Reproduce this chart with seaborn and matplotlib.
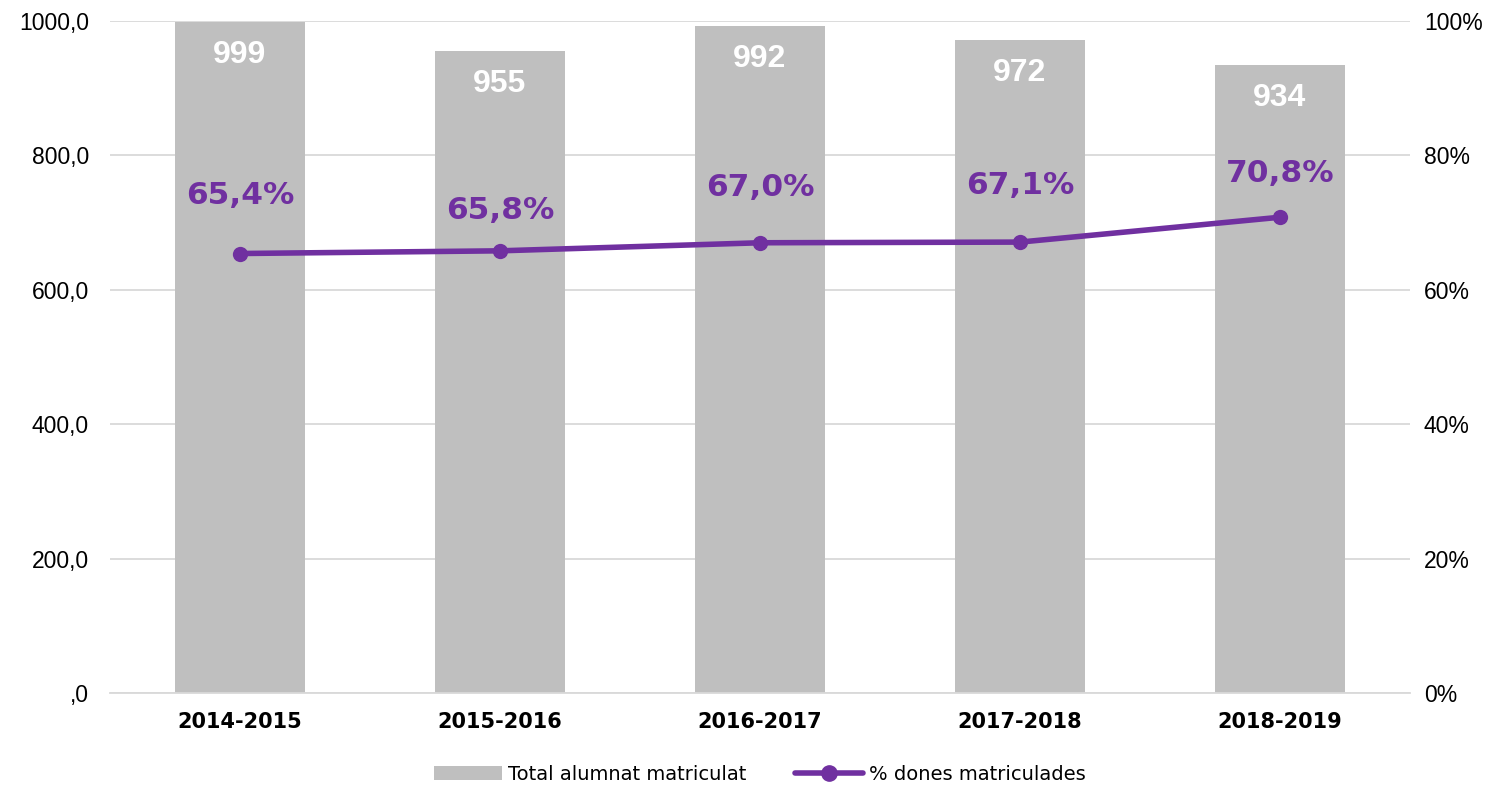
import numpy as np
import pandas as pd
import matplotlib
matplotlib.use('Agg')
import matplotlib.pyplot as plt
from matplotlib import font_manager
from matplotlib.ticker import FuncFormatter
from matplotlib.lines import Line2D
from matplotlib.patches import Patch
import seaborn as sns

# Data
courses = ['2014-2015', '2015-2016', '2016-2017', '2017-2018', '2018-2019']
total_students = [999, 955, 992, 972, 934]
pct_women = [65.4, 65.8, 67.0, 67.1, 70.8]

# label offsets above the line points (pixels)
pct_label_offsets = [58, 40, 55, 57, 44]

BAR_COLOR = '#BFBFBF'
LINE_COLOR = '#7030A0'

sns.set_theme(style='white')
plt.rcParams['font.family'] = ['Liberation Sans', 'DejaVu Sans']
plt.rcParams['text.color'] = 'black'
plt.rcParams['xtick.color'] = 'black'
plt.rcParams['ytick.color'] = 'black'


def arial_bold(size):
    """Liberation Sans Bold (not the Narrow variant)"""
    for f in font_manager.fontManager.ttflist:
        if (f.name == 'Liberation Sans' and f.weight in (700, 'bold')
                and f.style == 'normal' and 'Narrow' not in f.fname):
            return font_manager.FontProperties(fname=f.fname, size=size)
    return font_manager.FontProperties(family='Liberation Sans', weight='bold', size=size)


df = pd.DataFrame({'course': courses, 'total': total_students, 'pct': pct_women})

fig = plt.figure(figsize=(14.96, 7.9), dpi=100)
ax = fig.add_axes([0.0735, 0.1228, 0.869, 0.8506])

sns.barplot(data=df, x='course', y='total', color=BAR_COLOR, width=0.5,
            saturation=1, ax=ax, zorder=2, edgecolor='none', linewidth=0)
ax.set_ylim(0, 1000)
ax.set_yticks(np.arange(0, 1001, 200))
ax.yaxis.set_major_formatter(FuncFormatter(
    lambda v, p: ',0' if v == 0 else f'{v:.1f}'.replace('.', ',')))
ax.grid(axis='y', color='#D9D9D9', lw=1.3, zorder=0)
ax.set_axisbelow(True)
ax.set_xlabel('')
ax.set_ylabel('')
for s in ['top', 'right', 'left']:
    ax.spines[s].set_visible(False)
ax.spines['bottom'].set_color('#D9D9D9')
ax.spines['bottom'].set_linewidth(1.3)
ax.tick_params(axis='y', labelsize=16.5, length=0, pad=15, labelcolor='black')
ax.tick_params(axis='x', length=0, pad=14, labelcolor='black')
for lbl in ax.get_xticklabels():
    lbl.set_fontfamily('DejaVu Sans')
    lbl.set_fontweight('bold')
    lbl.set_fontsize(15)

for i, v in enumerate(total_students):
    ax.annotate(str(v), (i, v), xytext=(0, -33), textcoords='offset pixels',
                ha='center', va='center', color='white',
                fontproperties=arial_bold(23))

ax2 = ax.twinx()
sns.lineplot(data=df, x='course', y='pct', color=LINE_COLOR, lw=4,
             marker='o', markersize=11, markeredgewidth=0, ax=ax2, zorder=3)
ax2.set_ylim(0, 100)
ax2.set_yticks(np.arange(0, 101, 20))
ax2.yaxis.set_major_formatter(FuncFormatter(lambda v, p: f'{v:.0f}%'))
ax2.set_ylabel('')
ax2.tick_params(axis='y', labelsize=16.5, length=0, pad=10, labelcolor='black')
for s in ax2.spines.values():
    s.set_visible(False)
ax2.grid(False)

for i, (v, off) in enumerate(zip(pct_women, pct_label_offsets)):
    ax2.annotate(f'{v:.1f}%'.replace('.', ','), (i, v), xytext=(0, off),
                 textcoords='offset pixels', ha='center', va='center',
                 color=LINE_COLOR, fontsize=22.5, fontweight='bold',
                 fontfamily='DejaVu Sans')

ax.set_xlim(-0.5, len(courses) - 0.5)

handles = [Patch(facecolor=BAR_COLOR, edgecolor='none'),
           Line2D([0], [0], color=LINE_COLOR, lw=4, marker='o', markersize=11)]
fig.legend(handles, ['Total alumnat matriculat', '% dones matriculades'],
           loc='center', bbox_to_anchor=(0.508, 0.02), ncol=2, frameon=False,
           handlelength=3.5, handletextpad=0.3, columnspacing=2.5,
           labelcolor='black', prop={'family': 'DejaVu Sans', 'size': 14})

fig.savefig('out.png', dpi=100)
